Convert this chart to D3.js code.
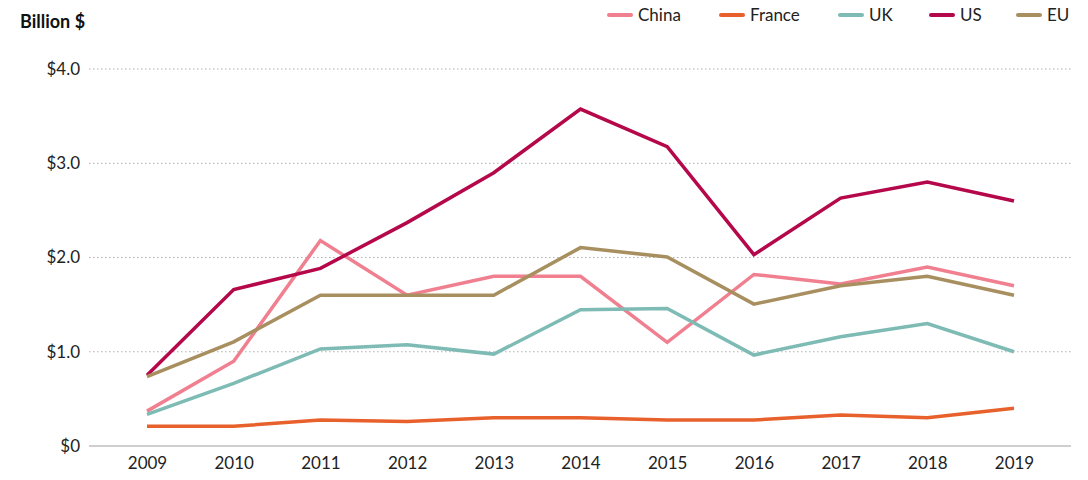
<!DOCTYPE html>
<html>
<head>
<meta charset="utf-8">
<script src="https://cdn.jsdelivr.net/npm/d3@7"></script>
<style>
  html, body { margin: 0; padding: 0; background: #fff; }
  svg { display: block; font-family: Lato, "Noto Sans", sans-serif; }
</style>
</head>
<body>
<svg id="chart" width="1088" height="480"></svg>
<script>
// Annual values, billion dollars
const years = [2009, 2010, 2011, 2012, 2013, 2014, 2015, 2016, 2017, 2018, 2019];
const china  = [0.37, 0.90, 2.18, 1.60, 1.80, 1.80, 1.10, 1.82, 1.72, 1.90, 1.70];
const france = [0.21, 0.21, 0.275, 0.26, 0.30, 0.30, 0.275, 0.275, 0.33, 0.30, 0.40];
const uk     = [0.335, 0.665, 1.03, 1.075, 0.975, 1.445, 1.46, 0.965, 1.16, 1.30, 1.00];
const us     = [0.75, 1.66, 1.885, 2.37, 2.90, 3.575, 3.175, 2.03, 2.63, 2.80, 2.60];
const eu     = [0.735, 1.105, 1.60, 1.60, 1.60, 2.105, 2.005, 1.505, 1.70, 1.80, 1.60];
const yTicks = [0, 1, 2, 3, 4];
const yTickLabels = ["$0", "$1.0", "$2.0", "$3.0", "$4.0"];

const seriesNames = ["China", "France", "UK", "US", "EU"];
const seriesValues = [china, france, uk, us, eu];
const seriesColors = ["#f07f90", "#e8602b", "#7dbbb4", "#b5084a", "#a88f60"];

const svg = d3.select("#chart");

const x = d3.scalePoint().domain(years).range([147, 1014]);
const y = d3.scaleLinear().domain([0, 4]).range([446, 69]);

const gridLeft = 89, gridRight = 1071;

// Horizontal gridlines: dotted above zero, solid baseline at zero
svg.append("g").selectAll("line")
  .data(yTicks)
  .join("line")
  .attr("x1", gridLeft).attr("x2", gridRight)
  .attr("y1", d => y(d)).attr("y2", d => y(d))
  .attr("stroke", d => d === 0 ? "#cfcfcf" : "#b0b0b0")
  .attr("stroke-width", d => d === 0 ? 2 : 1)
  .attr("stroke-dasharray", d => d === 0 ? null : "1.5,2.5");

// Y axis labels
const yAxis = d3.axisLeft(y)
  .tickValues(yTicks)
  .tickFormat((d, i) => yTickLabels[i])
  .tickSize(0)
  .tickPadding(0);
const gy = svg.append("g").attr("transform", "translate(80,0)").call(yAxis);
gy.select(".domain").remove();
gy.selectAll("text")
  .attr("font-size", 17)
  .attr("fill", "#222")
  .attr("font-family", "Lato, 'Noto Sans', sans-serif");

// X axis labels
const xAxis = d3.axisBottom(x).tickSize(0).tickPadding(0).tickFormat(d3.format("d"));
const gx = svg.append("g").attr("transform", "translate(0,457)").call(xAxis);
gx.select(".domain").remove();
gx.selectAll("text")
  .attr("font-size", 17)
  .attr("fill", "#222")
  .attr("font-family", "Lato, 'Noto Sans', sans-serif");

// Unit title
svg.append("text")
  .attr("x", 20).attr("y", 28)
  .attr("font-size", 18)
  .attr("font-weight", "bold")
  .attr("fill", "#111")
  .text("Billion $");

// Lines
const line = d3.line()
  .x((d, i) => x(years[i]))
  .y(d => y(d));

svg.append("g").selectAll("path")
  .data(seriesValues)
  .join("path")
  .attr("d", d => line(d))
  .attr("fill", "none")
  .attr("stroke", (d, i) => seriesColors[i])
  .attr("stroke-width", 3.5)
  .attr("stroke-linejoin", "miter")
  .attr("stroke-linecap", "butt");

// Legend
const legendX = [609, 721, 840, 931, 1018];
const legend = svg.append("g").selectAll("g")
  .data(seriesNames)
  .join("g")
  .attr("transform", (d, i) => `translate(${legendX[i]},15)`);
legend.append("line")
  .attr("x1", 0).attr("x2", 22)
  .attr("y1", 0).attr("y2", 0)
  .attr("stroke", (d, i) => seriesColors[i])
  .attr("stroke-width", 4)
  .attr("stroke-linecap", "round");
legend.append("text")
  .attr("x", 29).attr("y", 6)
  .attr("font-size", 17)
  .attr("fill", "#222")
  .text(d => d);
</script>
</body>
</html>
